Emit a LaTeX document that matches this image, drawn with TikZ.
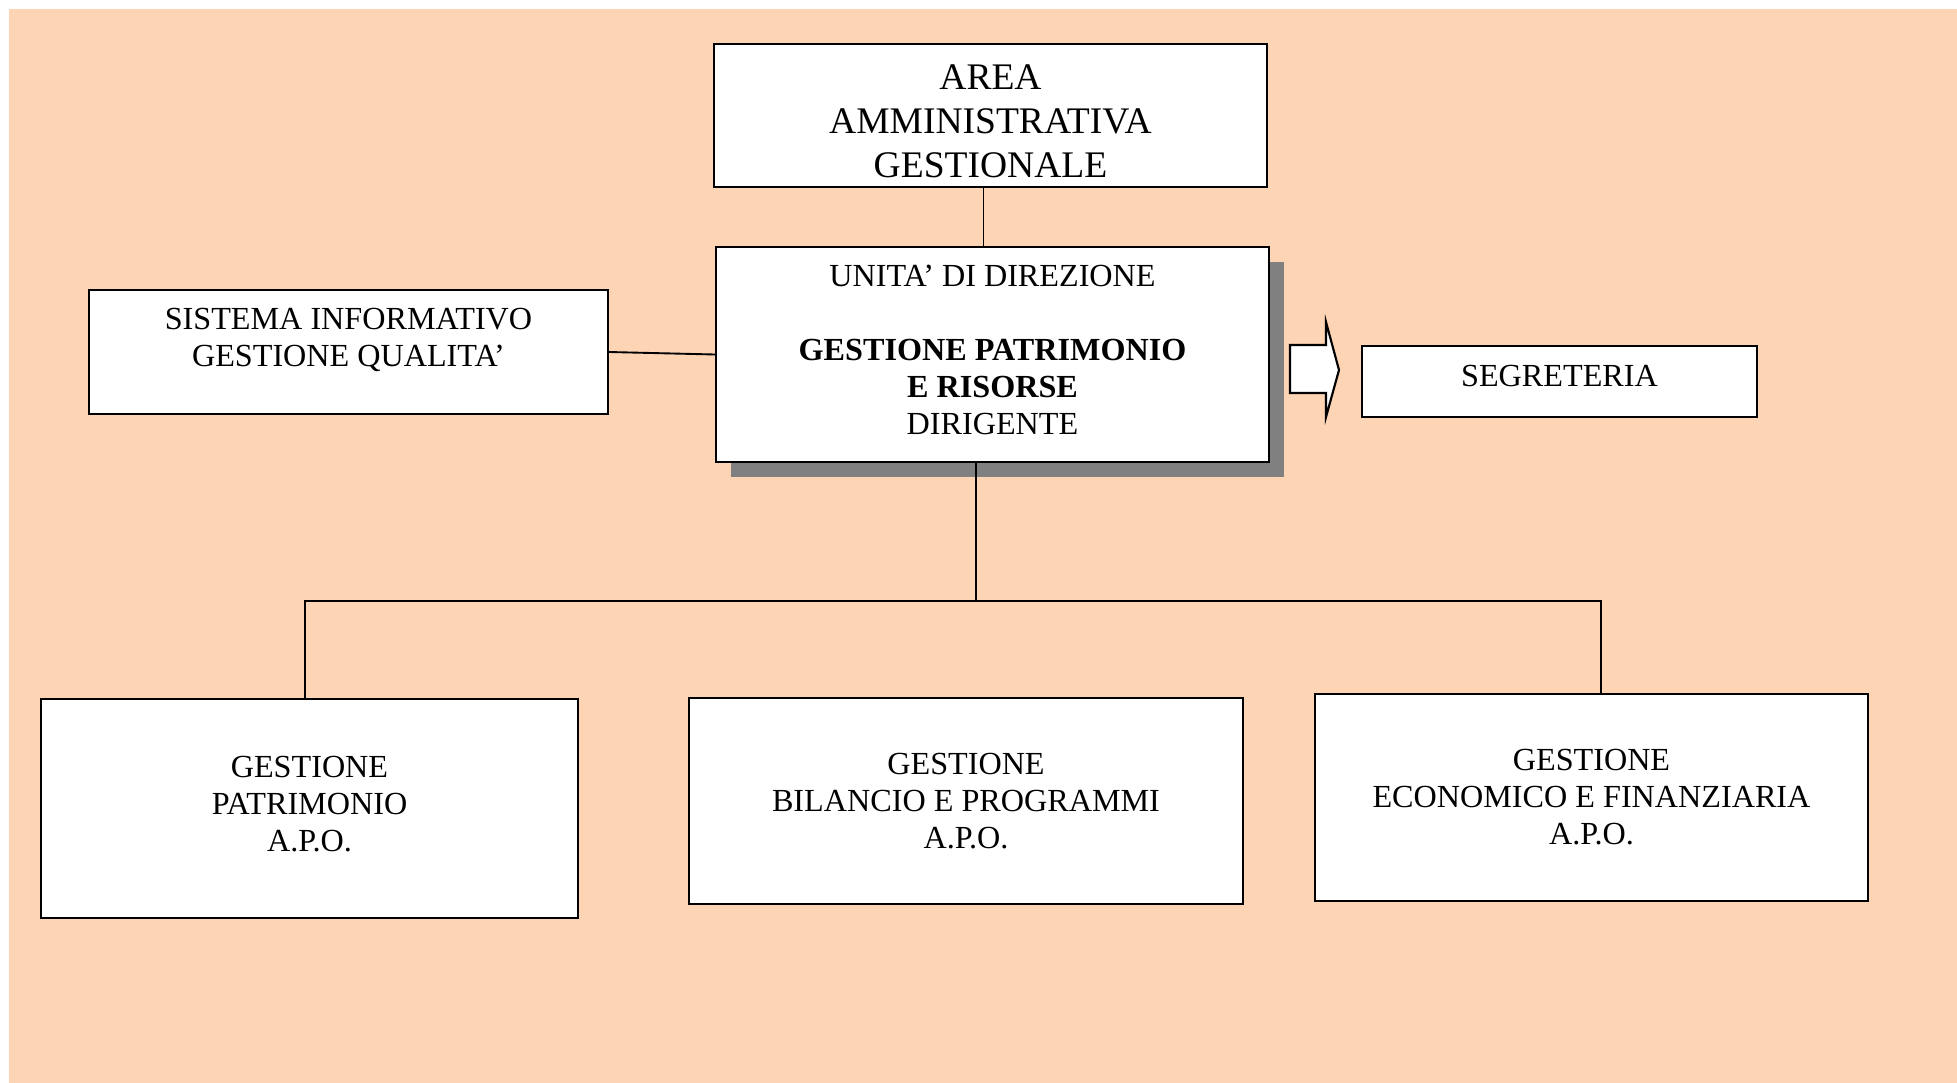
\documentclass[tikz,border=0pt]{standalone}
\usepackage{fontspec}
\setmainfont{Liberation Serif}
\usetikzlibrary{calc,shadows}
\definecolor{peach}{RGB}{253,212,180}
\newcommand{\pxu}{0.01311cm}
\tikzset{box/.style={draw,line width=.8pt,fill=white,align=center,inner sep=2pt,font=\fontsize{12}{13.8}\selectfont},
link/.style={line width=.7pt},
boxshadow/.style={drop shadow={shadow xshift=.2cm,shadow yshift=-.2cm,fill=black!50,opacity=1}}}

\begin{document}
\begin{tikzpicture}[x=\pxu,y=-\pxu]
\useasboundingbox (0,0) rectangle (1957,1083);
\fill[peach] (9,9) rectangle (1957,1083);
% top levels
\node[box,font=\fontsize{14}{16.4}\selectfont,minimum width=553*\pxu,minimum height=143*\pxu] (area) at (990.5,115.5) {\rule{0pt}{13.8pt}AREA\\AMMINISTRATIVA\\GESTIONALE};
\node[box,boxshadow,text depth=9*\pxu,minimum width=553*\pxu,minimum height=215*\pxu] (dir) at (992.5,354.5) {UNITA' DI DIREZIONE\\[13.8pt]\textbf{GESTIONE PATRIMONIO}\\\textbf{E RISORSE}\\DIRIGENTE};
\node[box,text depth=30*\pxu,minimum width=519*\pxu,minimum height=124*\pxu] (sis) at (348.5,352) {SISTEMA INFORMATIVO\\GESTIONE QUALITA'};
\node[box,text depth=12*\pxu,minimum width=395*\pxu,minimum height=71*\pxu] (seg) at (1559.5,381.5) {SEGRETERIA};
% offices
\node[box,text depth=9*\pxu,minimum width=537*\pxu,minimum height=219*\pxu] (patr) at (309.5,808.5) {GESTIONE\\PATRIMONIO\\A.P.O.};
\node[box,minimum width=554*\pxu,minimum height=206*\pxu] (bil) at (966,801) {GESTIONE\\BILANCIO E PROGRAMMI\\A.P.O.};
\node[box,minimum width=553*\pxu,minimum height=207*\pxu] (econ) at (1591.5,797.5) {GESTIONE\\ECONOMICO E FINANZIARIA\\A.P.O.};
\draw[line width=.8pt,fill=white] (1290,345) -- (1326,345) -- (1326,322) -- (1339,370) -- (1326,417) -- (1326,393) -- (1290,393) -- cycle;
\coordinate (busl) at (305,601);\coordinate (busm) at (976,601);\coordinate (busr) at (1601,601);
\draw[link] ([xshift=-7*\pxu]area.south) -- ([xshift=-9*\pxu]dir.north);
\draw[link] (sis.east) -- (dir.west);
\draw[link] (dir.south -| busm) -- (busm);
\draw[link] (patr.north -| busl) -- (busl) -- (busr) -- (econ.north -| busr);
\end{tikzpicture}
\end{document}
